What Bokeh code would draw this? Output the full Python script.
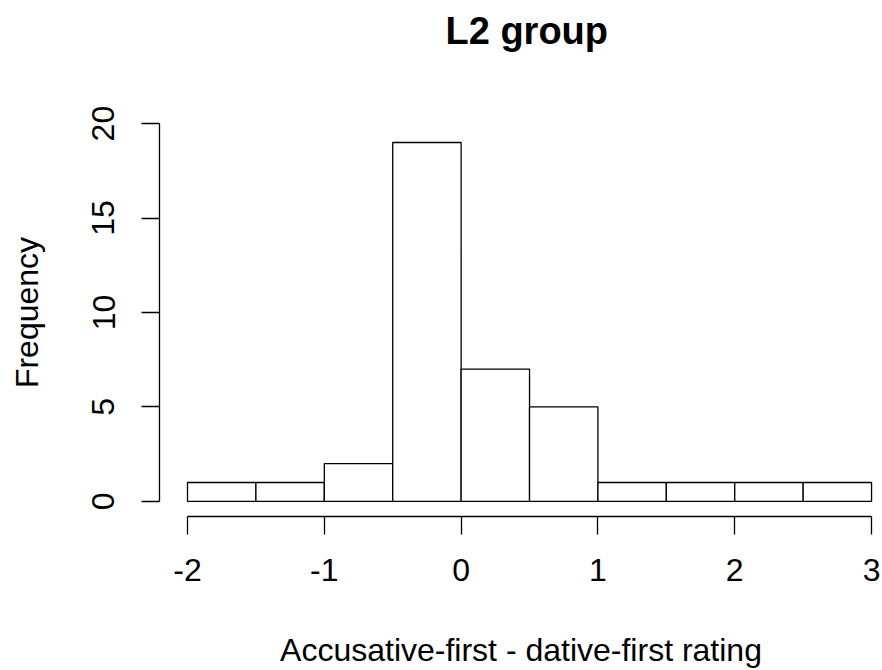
from bokeh.plotting import figure
from bokeh.models import Range1d, FixedTicker, Title
from bokeh.embed import file_html
from bokeh.resources import INLINE

# Data (histogram of rating differences)
breaks = [-2.0, -1.5, -1.0, -0.5, 0.0, 0.5, 1.0, 1.5, 2.0, 2.5, 3.0]
counts = [1, 1, 2, 19, 7, 5, 1, 1, 1, 1]
x_ticks = [-2, -1, 0, 1, 2, 3]
y_ticks = [0, 5, 10, 15, 20]
title_text = "L2 group"
x_label = "Accusative-first - dative-first rating"
y_label = "Frequency"

FONT = "Liberation Sans"

p = figure(width=882, height=670, output_backend="svg", toolbar_location=None,
           x_range=Range1d(-2.2047, 3.08), y_range=Range1d(-0.8, 20.8),
           min_border_left=159, min_border_right=0, min_border_top=108,
           min_border_bottom=154)
p.outline_line_color = None
p.xgrid.visible = False
p.ygrid.visible = False
p.background_fill_color = "white"
p.border_fill_color = "white"

p.quad(left=breaks[:-1], right=breaks[1:], bottom=[0] * len(counts), top=counts,
       fill_color="white", line_color="black", line_width=1.3)

t = Title(text=title_text, align="left", vertical_align="bottom", text_font=FONT,
          text_font_size="38px", text_font_style="bold", text_color="black",
          offset=286, standoff=0,
          padding=dict(left=0, right=0, top=0, bottom=57))
p.add_layout(t, "above")

for ax in (p.xaxis[0], p.yaxis[0]):
    ax.axis_line_color = "black"
    ax.axis_line_width = 1.3
    ax.major_tick_line_color = "black"
    ax.major_tick_line_width = 1.3
    ax.major_tick_in = 0
    ax.major_tick_out = 18
    ax.minor_tick_line_color = None
    ax.major_label_text_font = FONT
    ax.major_label_text_font_size = "32px"
    ax.major_label_text_color = "black"
    ax.axis_label_text_font = FONT
    ax.axis_label_text_font_size = "32px"
    ax.axis_label_text_font_style = "normal"
    ax.axis_label_text_color = "black"

xa = p.xaxis[0]
xa.ticker = FixedTicker(ticks=x_ticks)
xa.bounds = (x_ticks[0], x_ticks[-1])
xa.major_label_overrides = {v: str(v) for v in x_ticks}
xa.major_label_standoff = 24
xa.axis_label = x_label
xa.axis_label_standoff = 48

ya = p.yaxis[0]
ya.ticker = FixedTicker(ticks=y_ticks)
ya.bounds = (y_ticks[0], y_ticks[-1])
ya.major_label_overrides = {v: str(v) for v in y_ticks}
ya.major_label_orientation = "parallel"
ya.major_label_standoff = 27
ya.axis_label = y_label
ya.axis_label_standoff = 45

open("out.html", "w").write(file_html(p, INLINE))
